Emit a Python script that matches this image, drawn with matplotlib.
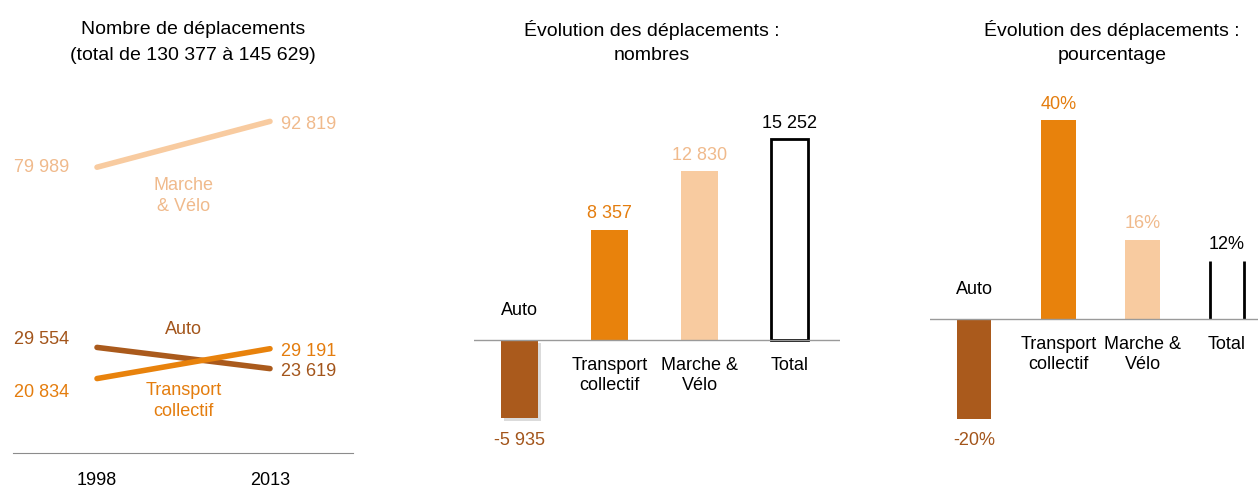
import matplotlib
matplotlib.use("Agg")
import matplotlib.pyplot as plt
import matplotlib.patheffects as pe

plt.rcParams['font.family'] = ['Liberation Sans', 'DejaVu Sans']

# data
years = ['1998', '2013']
modes = ['Auto', 'Transport\ncollectif', 'Marche\n& Vélo']
auto_vals = [29554, 23619]
transport_vals = [20834, 29191]
marche_vals = [79989, 92819]

bar_cats = ['Auto', 'Transport\ncollectif', 'Marche &\nVélo', 'Total']
delta_counts = [-5935, 8357, 12830, 15252]
delta_count_labels = ['-5 935', '8 357', '12 830', '15 252']
delta_pct = [-20.1, 40.1, 16.0, 11.7]
delta_pct_labels = ['-20%', '40%', '16%', '12%']

C_AUTO = '#AA5A1C'
C_TC = '#E8820C'
C_MV = '#F8CBA0'
T_AUTO = '#A3551B'
T_TC = '#E47D0E'
T_MV = '#F0BA8C'
bar_colors = [C_AUTO, C_TC, C_MV, 'white']
text_colors = [T_AUTO, T_TC, T_MV, 'black']

W, H = 1258, 487
fig = plt.figure(figsize=(W / 100, H / 100), dpi=100)


def px_axes(x0, x1, ytop, ybot):
    return fig.add_axes([x0 / W, (H - ybot) / H, (x1 - x0) / W, (ybot - ytop) / H])


def fmt(v):
    return f'{v:,}'.replace(',', ' ')


# ---- panel 1 : lines
ax1 = px_axes(13, 353, 85, 453)
x = [0, 1]
for vals, col, tcol, dl in [(marche_vals, C_MV, T_MV, 0),
                            (auto_vals, C_AUTO, T_AUTO, 6),
                            (transport_vals, C_TC, T_TC, -10)]:
    ax1.plot(x, vals, color=col, lw=4, solid_capstyle='round')
    ax1.annotate(fmt(vals[0]), (0, vals[0]), xytext=(-20, dl), textcoords='offset points',
                 ha='right', va='center', color=tcol, fontsize=13)
    ax1.annotate(fmt(vals[1]), (1, vals[1]), xytext=(8, -2), textcoords='offset points',
                 ha='left', va='center', color=tcol, fontsize=13)
ax1.text(0.5, 72000, modes[2], ha='center', va='center', color=T_MV, fontsize=13, linespacing=1.3)
ax1.text(0.5, 34600, modes[0], ha='center', va='center', color=T_AUTO, fontsize=13)
ax1.text(0.5, 14600, modes[1], ha='center', va='center', color=T_TC, fontsize=13, linespacing=1.3)
ax1.set_xlim(-84 / 173, 256 / 173)
ax1.set_ylim(0, 103000)
ax1.set_xticks(x, years, fontsize=13)
ax1.tick_params(length=0, pad=14)
ax1.set_yticks([])
for s in ['top', 'left', 'right']:
    ax1.spines[s].set_visible(False)
ax1.spines['bottom'].set_color('#8c8c8c')
fig.text(193 / W, 1 - 30 / H, 'Nombre de déplacements', ha='center', va='center', fontsize=14)
fig.text(193 / W, 1 - 55 / H, '(total de 130 377 à 145 629)', ha='center', va='center', fontsize=14)


def bar_panel(ax, vals, labels, shadow=False, open_total=False):
    idx = range(len(vals))
    w = 0.41
    for i, v in zip(idx, vals):
        if i == 3:
            if open_total:
                ax.vlines([i - w / 2, i + w / 2], 0, v, color='black', lw=2)
            else:
                ax.bar(i, v, w, color='white', edgecolor='black', lw=2)
        else:
            b = ax.bar(i, v, w, color=bar_colors[i])
            if shadow and v < 0:
                b[0].set_path_effects([pe.SimplePatchShadow(offset=(2, -2), shadow_rgbFace='#999999',
                                                            alpha=0.35), pe.Normal()])
    ax.axhline(0, color='#9a9a9a', lw=1)
    for i, v in zip(idx, vals):
        off = 11.5 if v > 0 else -16
        ax.annotate(labels[i], (i, v), xytext=(0, off), textcoords='offset points',
                    ha='center', va='center', color=text_colors[i], fontsize=13)
        if v < 0:
            ax.annotate(bar_cats[i], (i, 0), xytext=(0, 21), textcoords='offset points',
                        ha='center', va='center', fontsize=13)
        else:
            ax.annotate(bar_cats[i], (i, 0), xytext=(0, -12.5), textcoords='offset points',
                        ha='center', va='top', fontsize=13, linespacing=1.2)
    ax.axis('off')


# ---- panel 2 : counts
ax2 = px_axes(474, 840, 85, 470)
bar_panel(ax2, delta_counts, delta_count_labels, shadow=True)
ax2.set_xlim(-45.5 / 90, 3 + 50 / 90)
ax2.set_ylim(-130 / 13.17 * 1000, 255 / 13.17 * 1000)
fig.text(652 / W, 1 - 30 / H, 'Évolution des déplacements :', ha='center', va='center', fontsize=14)
fig.text(652 / W, 1 - 55 / H, 'nombres', ha='center', va='center', fontsize=14)

# ---- panel 3 : percentages
ax3 = px_axes(930, 1258, 85, 470)
bar_panel(ax3, delta_pct, delta_pct_labels, open_total=True)
ax3.set_xlim(-44 / 84.3, 3 + 31 / 84.3)
ax3.set_ylim(-151 / 4.96, 234 / 4.96)
fig.text(1112 / W, 1 - 30 / H, 'Évolution des déplacements :', ha='center', va='center', fontsize=14)
fig.text(1112 / W, 1 - 55 / H, 'pourcentage', ha='center', va='center', fontsize=14)

fig.savefig('out.png', dpi=100)
